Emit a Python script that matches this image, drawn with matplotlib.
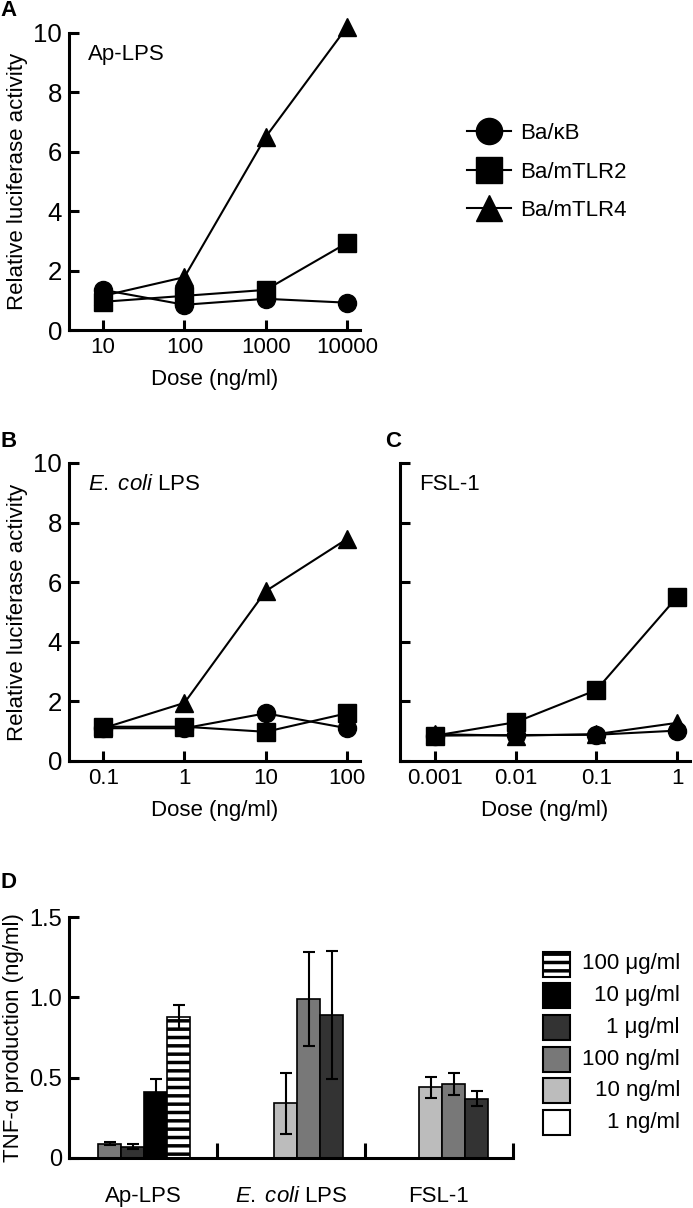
import numpy as np
import matplotlib
matplotlib.use('Agg')
import matplotlib.pyplot as plt
from matplotlib.patches import Rectangle

plt.rcParams['font.family'] = ['Liberation Sans', 'DejaVu Sans']
plt.rcParams['font.size'] = 16
plt.rcParams['mathtext.fontset'] = 'custom'
plt.rcParams['mathtext.rm'] = 'Liberation Sans'
plt.rcParams['mathtext.it'] = 'Liberation Sans:italic'
plt.rcParams['hatch.linewidth'] = 2.5

# panel A: Ap-LPS
dose_a = [10, 100, 1000, 10000]
kb_a = [1.35, 0.85, 1.05, 0.92]
tlr2_a = [0.95, 1.15, 1.35, 2.93]
tlr4_a = [1.15, 1.78, 6.5, 10.2]

# panel B: E. coli LPS
dose_b = [0.1, 1, 10, 100]
kb_b = [1.1, 1.1, 1.6, 1.1]
tlr2_b = [1.15, 1.15, 0.98, 1.6]
tlr4_b = [1.1, 1.95, 5.7, 7.45]

# panel C: FSL-1
dose_c = [0.001, 0.01, 0.1, 1]
kb_c = [0.85, 0.87, 0.88, 1.02]
tlr2_c = [0.85, 1.3, 2.38, 5.5]
tlr4_c = [0.9, 0.85, 0.9, 1.28]

cell_lines = ['Ba/κB', 'Ba/mTLR2', 'Ba/mTLR4']
markers = ['o', 's', '^']

# panel D: TNF-alpha production
ecoli = r'$\mathit{E.\;coli}$ LPS'
stimuli = ['Ap-LPS', ecoli, 'FSL-1']
doses_d = ['1 ng/ml', '10 ng/ml', '100 ng/ml', '1 μg/ml', '10 μg/ml', '100 μg/ml']
dose_colors = ['white', '#bcbcbc', '#787878', '#333333', 'black', 'white']
dose_hatch = [None, None, None, None, None, '--']

# which doses were measured for each stimulus (index into doses_d)
ap_idx = [2, 3, 4, 5]
ap_tnf = [0.09, 0.07, 0.41, 0.88]
ap_err = [0.012, 0.015, 0.08, 0.075]
ec_idx = [1, 2, 3]
ec_tnf = [0.34, 0.99, 0.89]
ec_err = [0.19, 0.29, 0.40]
fsl_idx = [1, 2, 3]
fsl_tnf = [0.44, 0.46, 0.37]
fsl_err = [0.065, 0.07, 0.045]

W, H = 693, 1208
fig = plt.figure(figsize=(W / 100, H / 100), dpi=100)


def box(l, t, r, b):
    return [l / W, 1 - b / H, (r - l) / W, (b - t) / H]


axA = fig.add_axes(box(69, 33, 360, 330))
axB = fig.add_axes(box(69, 463, 360, 761))
axC = fig.add_axes(box(400, 463, 690, 761))
axD = fig.add_axes(box(69, 917, 513, 1158))


def style_lines(ax, doses, xlim, show_ylabels=True):
    ax.set_xscale('log')
    ax.set_xlim(xlim)
    ax.set_ylim(0, 10)
    ax.set_xticks(doses)
    ax.set_xticklabels([f'{d:g}' for d in doses])
    ax.xaxis.set_minor_locator(plt.NullLocator())
    ax.set_yticks(range(0, 11, 2))
    if not show_ylabels:
        ax.set_yticklabels([])
    for s in ['top', 'right']:
        ax.spines[s].set_visible(False)
    for s in ['left', 'bottom']:
        ax.spines[s].set_linewidth(2.2)
    ax.tick_params(direction='in', length=7, width=2.2, pad=5)
    ax.tick_params(axis='x', labelsize=16)
    ax.tick_params(axis='y', labelsize=18.5)
    ax.set_xlabel('Dose (ng/ml)', labelpad=8)


panels = [
    (axA, dose_a, [kb_a, tlr2_a, tlr4_a], (10 ** 0.58, 10 ** 4.16), 'Ap-LPS'),
    (axB, dose_b, [kb_b, tlr2_b, tlr4_b], (10 ** -1.42, 10 ** 2.16), ecoli),
    (axC, dose_c, [kb_c, tlr2_c, tlr4_c], (10 ** -3.43, 10 ** 0.16), 'FSL-1'),
]
for ax, doses, series, xlim, name in panels:
    for vals, m, lab in zip(series, markers, cell_lines):
        ax.plot(doses, vals, color='black', lw=1.5, marker=m, ms=13,
                clip_on=False, label=lab)
    style_lines(ax, doses, xlim, show_ylabels=(ax is not axC))
    ax.text(0.065, 0.928, name, transform=ax.transAxes, va='center', ha='left')

axA.set_ylabel('Relative luciferase activity', labelpad=4)
axB.set_ylabel('Relative luciferase activity', labelpad=4)

handles, labels = axA.get_legend_handles_labels()
fig.legend(handles, labels, loc='center left', bbox_to_anchor=(467 / W, 1 - 172 / H),
           frameon=False, handlelength=2.0, handletextpad=0.4, labelspacing=0.78,
           markerscale=1.45, borderpad=0, borderaxespad=0)

# panel D bars
w = 23 / 148
cluster_shift = [0.01, 0.12, 0.10]
groups = [(ap_idx, ap_tnf, ap_err), (ec_idx, ec_tnf, ec_err), (fsl_idx, fsl_tnf, fsl_err)]
for g, (idx, vals, errs) in enumerate(groups):
    n = len(idx)
    xs = g + cluster_shift[g] + (np.arange(n) - (n - 1) / 2) * w
    for x, j, v, e in zip(xs, idx, vals, errs):
        axD.bar(x, v, width=w, color=dose_colors[j], hatch=dose_hatch[j],
                edgecolor='black', lw=1.2, yerr=e, capsize=4.3,
                error_kw=dict(elinewidth=1.5, capthick=1.5, ecolor='black'))

axD.set_xlim(-0.5, 2.5)
axD.set_ylim(0, 1.5)
axD.set_yticks([0, 0.5, 1.0, 1.5])
axD.set_yticklabels(['0', '0.5', '1.0', '1.5'])
axD.set_xticks([0.5, 1.5, 2.5])
axD.set_xticklabels([])
axD.set_xticks(range(len(stimuli)), minor=True)
axD.set_xticklabels(stimuli, minor=True)
for s in ['top', 'right']:
    axD.spines[s].set_visible(False)
for s in ['left', 'bottom']:
    axD.spines[s].set_linewidth(2.2)
axD.tick_params(axis='y', direction='in', length=7, width=2.2, pad=5, labelsize=17)
axD.tick_params(axis='x', which='major', direction='in', length=11, width=2.2)
axD.tick_params(axis='x', which='minor', length=0, pad=20)
axD.set_ylabel('TNF-α production (ng/ml)', labelpad=4)

# panel D legend, drawn by hand so the labels are right aligned
for k, j in enumerate(reversed(range(len(doses_d)))):
    yc = 964 + 31.7 * k
    fig.add_artist(Rectangle((543 / W, 1 - (yc + 12.5) / H), 27 / W, 25 / H,
                             transform=fig.transFigure, facecolor=dose_colors[j],
                             hatch=dose_hatch[j], edgecolor='black', lw=1.5))
    fig.text(680 / W, 1 - yc / H, doses_d[j], ha='right', va='center')

# panel letters
for letter, x, y in [('A', 0, 11), ('B', 0, 441), ('C', 385, 441), ('D', 0, 883)]:
    fig.text(x / W, 1 - y / H, letter, fontweight='bold', ha='left', va='center', fontsize=16)

fig.savefig('out.png', dpi=100)
